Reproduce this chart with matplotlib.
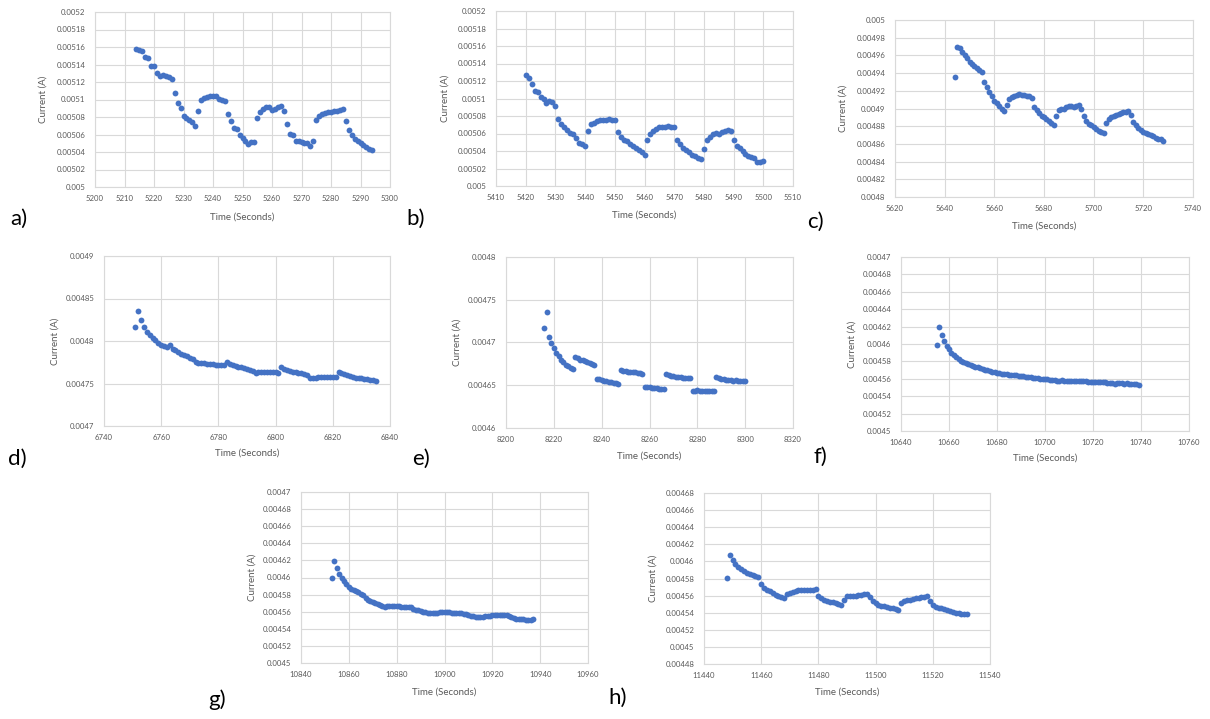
import numpy as np
import matplotlib.pyplot as plt

plt.rcParams["font.family"] = ["Lato", "DejaVu Sans"]

BLUE = "#4472C4"
TXT = "#595959"
GRID = "#D9D9D9"
W, H = 1210, 719

# current readings (A), one sample per second from the start time
a_start = 5214
a_current = [
    0.005158, 0.005157, 0.005156, 0.005149, 0.005148, 0.005138, 0.005138, 0.00513, 0.005127, 0.005128,
    0.005127, 0.005126, 0.005123, 0.005107, 0.005096, 0.00509, 0.005081, 0.005079, 0.005077, 0.005074,
    0.00507, 0.005087, 0.0051, 0.005102, 0.005103, 0.005104, 0.005104, 0.005104, 0.005101, 0.0051,
    0.005098, 0.005084, 0.005075, 0.005067, 0.005066, 0.005059, 0.005056, 0.005053, 0.005049, 0.005051,
    0.005051, 0.005079, 0.005086, 0.005089, 0.005091, 0.005091, 0.005088, 0.005089, 0.005091, 0.005093,
    0.005087, 0.005072, 0.005061, 0.00506, 0.005053, 0.005053, 0.005052, 0.00505, 0.00505, 0.005047,
    0.005053, 0.005077, 0.005081, 0.005084, 0.005085, 0.005086, 0.005086, 0.005087, 0.005087, 0.005088,
    0.005089, 0.005075, 0.005065, 0.00506, 0.005055, 0.005053, 0.00505, 0.005048, 0.005046, 0.005044,
    0.005042,
]

b_start = 5420
b_current = [
    0.005127, 0.005124, 0.005117, 0.005109, 0.005108, 0.005102, 0.005099, 0.005095, 0.005097, 0.005096,
    0.005091, 0.005077, 0.005071, 0.005067, 0.005064, 0.005061, 0.005059, 0.005055, 0.005049, 0.005048,
    0.005046, 0.005063, 0.005071, 0.005072, 0.005074, 0.005075, 0.005075, 0.005076, 0.005077, 0.005076,
    0.005075, 0.005062, 0.005056, 0.005053, 0.005051, 0.005048, 0.005046, 0.005043, 0.005041, 0.005039,
    0.005035, 0.005053, 0.00506, 0.005063, 0.005065, 0.005067, 0.005068, 0.005067, 0.005069, 0.005068,
    0.005067, 0.005053, 0.005048, 0.005044, 0.005041, 0.005039, 0.005035, 0.005034, 0.005032, 0.005031,
    0.005042, 0.005053, 0.005056, 0.005059, 0.005061, 0.00506, 0.005062, 0.005063, 0.005064, 0.005063,
    0.005053, 0.005046, 0.005043, 0.00504, 0.005037, 0.005034, 0.005033, 0.005032, 0.005028, 0.005028,
    0.005029,
]

c_start = 5644
c_current = [
    0.004936, 0.004969, 0.004968, 0.004964, 0.004961, 0.004957, 0.004953, 0.00495, 0.004948, 0.004946,
    0.004944, 0.004941, 0.00493, 0.004924, 0.004919, 0.004914, 0.004909, 0.004906, 0.004903, 0.0049,
    0.004897, 0.004904, 0.004911, 0.004913, 0.004914, 0.004915, 0.004916, 0.004915, 0.004915, 0.004914,
    0.004914, 0.004912, 0.004902, 0.004898, 0.004895, 0.004892, 0.00489, 0.004888, 0.004886, 0.004884,
    0.004881, 0.004892, 0.004898, 0.004899, 0.0049, 0.004902, 0.004903, 0.004903, 0.004902, 0.004903,
    0.004904, 0.004899, 0.004892, 0.004886, 0.004883, 0.004881, 0.004879, 0.004877, 0.004875, 0.004873,
    0.004872, 0.004884, 0.004888, 0.00489, 0.004892, 0.004893, 0.004894, 0.004895, 0.004896, 0.004896,
    0.004897, 0.004893, 0.004885, 0.004881, 0.004878, 0.004876, 0.004874, 0.004872, 0.004871, 0.00487,
    0.004869, 0.004867, 0.004866, 0.004865, 0.004863,
]

d_start = 6751
d_current = [
    0.004817, 0.004835, 0.004825, 0.004817, 0.004811, 0.004807, 0.004804, 0.004801, 0.004798, 0.004795,
    0.004794, 0.004793, 0.004795, 0.004791, 0.004789, 0.004787, 0.004785, 0.004783, 0.004782, 0.00478,
    0.004779, 0.004775, 0.004774, 0.004774, 0.004774, 0.004773, 0.004773, 0.004773, 0.004772, 0.004772,
    0.004772, 0.004772, 0.004775, 0.004773, 0.004772, 0.004771, 0.00477, 0.004769, 0.004768, 0.004767,
    0.004766, 0.004765, 0.004762, 0.004763, 0.004764, 0.004764, 0.004764, 0.004764, 0.004764, 0.004764,
    0.004762, 0.004769, 0.004767, 0.004766, 0.004765, 0.004764, 0.004763, 0.004762, 0.004762, 0.004761,
    0.00476, 0.004756, 0.004757, 0.004757, 0.004758, 0.004758, 0.004758, 0.004758, 0.004758, 0.004758,
    0.004758, 0.004763, 0.004762, 0.004761, 0.00476, 0.004759, 0.004758, 0.004757, 0.004757, 0.004756,
    0.004755, 0.004755, 0.004754, 0.004754, 0.004753,
]

e_start = 8216
e_current = [
    0.004717, 0.004736, 0.004707, 0.004699, 0.004693, 0.004688, 0.004684, 0.00468, 0.004677, 0.004674,
    0.004672, 0.00467, 0.004669, 0.004683, 0.004682, 0.00468, 0.004679, 0.004678, 0.004677, 0.004676,
    0.004675, 0.004674, 0.004657, 0.004657, 0.004656, 0.004655, 0.004655, 0.004654, 0.004654, 0.004653,
    0.004653, 0.004652, 0.004668, 0.004667, 0.004667, 0.004666, 0.004666, 0.004665, 0.004665, 0.004664,
    0.004664, 0.004663, 0.004648, 0.004648, 0.004648, 0.004647, 0.004647, 0.004647, 0.004646, 0.004646,
    0.004646, 0.004663, 0.004662, 0.004661, 0.004661, 0.00466, 0.00466, 0.00466, 0.004659, 0.004659,
    0.004659, 0.004658, 0.004643, 0.004643, 0.004644, 0.004643, 0.004643, 0.004643, 0.004643, 0.004643,
    0.004643, 0.004643, 0.00466, 0.004658, 0.004657, 0.004657, 0.004656, 0.004656, 0.004656, 0.004655,
    0.004656, 0.004655, 0.004655, 0.004655, 0.004655,
]

f_start = 10655
f_current = [
    0.004599, 0.00462, 0.00461, 0.004603, 0.004598, 0.004594, 0.00459, 0.004587, 0.004585, 0.004583,
    0.004581, 0.004579, 0.004578, 0.004577, 0.004576, 0.004575, 0.004574, 0.004573, 0.004572, 0.004571,
    0.00457, 0.00457, 0.004569, 0.004568, 0.004568, 0.004567, 0.004567, 0.004566, 0.004566, 0.004565,
    0.004564, 0.004564, 0.004564, 0.004564, 0.004563, 0.004563, 0.004563, 0.004562, 0.004562, 0.004562,
    0.004561, 0.004561, 0.004561, 0.00456, 0.00456, 0.00456, 0.00456, 0.004559, 0.004559, 0.004559,
    0.004558, 0.004558, 0.004559, 0.004558, 0.004558, 0.004558, 0.004558, 0.004557, 0.004557, 0.004557,
    0.004557, 0.004557, 0.004557, 0.004556, 0.004556, 0.004556, 0.004556, 0.004556, 0.004556, 0.004556,
    0.004556, 0.004555, 0.004555, 0.004555, 0.004554, 0.004555, 0.004555, 0.004555, 0.004554, 0.004555,
    0.004554, 0.004554, 0.004554, 0.004554, 0.004553,
]

g_start = 10853
g_current = [
    0.0046, 0.004619, 0.004611, 0.004604, 0.0046, 0.004596, 0.004592, 0.004589, 0.004587, 0.004585,
    0.004584, 0.004583, 0.004581, 0.004579, 0.004576, 0.004574, 0.004572, 0.004571, 0.00457, 0.004569,
    0.004568, 0.004567, 0.004566, 0.004567, 0.004567, 0.004567, 0.004567, 0.004567, 0.004567, 0.004566,
    0.004566, 0.004565, 0.004565, 0.004565, 0.004563, 0.004562, 0.004562, 0.004561, 0.00456, 0.00456,
    0.004559, 0.004559, 0.004558, 0.004558, 0.004559, 0.00456, 0.00456, 0.00456, 0.00456, 0.00456,
    0.004558, 0.004558, 0.004559, 0.004559, 0.004558, 0.004557, 0.004557, 0.004556, 0.004555, 0.004555,
    0.004554, 0.004554, 0.004554, 0.004554, 0.004555, 0.004555, 0.004555, 0.004556, 0.004556, 0.004556,
    0.004556, 0.004556, 0.004556, 0.004556, 0.004555, 0.004554, 0.004553, 0.004552, 0.004552, 0.004552,
    0.004551, 0.00455, 0.00455, 0.00455, 0.004551,
]

h_start = 11448
h_current = [
    0.004581, 0.004607, 0.004602, 0.004597, 0.004594, 0.004591, 0.004589, 0.004587, 0.004585, 0.004584,
    0.004583, 0.004582, 0.004573, 0.004569, 0.004567, 0.004565, 0.004563, 0.004561, 0.00456, 0.004558,
    0.004557, 0.004562, 0.004563, 0.004564, 0.004565, 0.004566, 0.004566, 0.004567, 0.004567, 0.004567,
    0.004567, 0.004568, 0.00456, 0.004557, 0.004555, 0.004554, 0.004553, 0.004552, 0.004551, 0.00455,
    0.004549, 0.004555, 0.004559, 0.00456, 0.00456, 0.00456, 0.004561, 0.004561, 0.004562, 0.004562,
    0.004558, 0.004554, 0.004551, 0.004549, 0.004548, 0.004548, 0.004547, 0.004546, 0.004545, 0.004544,
    0.004543, 0.004551, 0.004554, 0.004555, 0.004555, 0.004556, 0.004557, 0.004557, 0.004558, 0.004558,
    0.004559, 0.004554, 0.004549, 0.004547, 0.004546, 0.004545, 0.004544, 0.004543, 0.004542, 0.004541,
    0.00454, 0.00454, 0.004539, 0.004539, 0.004538,
]

# axis ranges: (xmin, xmax, xstep, ymin, ymax, ystep)
ranges = {
    "a": (5200, 5300, 10, 0.005, 0.0052, 0.00002),
    "b": (5410, 5510, 10, 0.005, 0.0052, 0.00002),
    "c": (5620, 5740, 20, 0.0048, 0.005, 0.00002),
    "d": (6740, 6840, 20, 0.0047, 0.0049, 0.00005),
    "e": (8200, 8320, 20, 0.0046, 0.0048, 0.00005),
    "f": (10640, 10760, 20, 0.0045, 0.0047, 0.00002),
    "g": (10840, 10960, 20, 0.0045, 0.0047, 0.00002),
    "h": (11440, 11540, 20, 0.00448, 0.00468, 0.00002),
}

series = {
    "a": (a_start, a_current), "b": (b_start, b_current),
    "c": (c_start, c_current), "d": (d_start, d_current),
    "e": (e_start, e_current), "f": (f_start, f_current),
    "g": (g_start, g_current), "h": (h_start, h_current),
}

# pixel layout: plot box (left, top, right, bottom), ylabel x, xlabel y, panel letter (x, y)
layout = {
    "a": ((95, 12, 390, 187), 43, 217, (10, 219)),
    "b": ((496, 11, 793, 186), 445, 215, (406, 219)),
    "c": ((895, 20, 1193, 197), 843, 226, (807, 222)),
    "d": ((104, 256, 390, 426), 55, 453, (8, 459)),
    "e": ((506, 257, 793, 428), 457, 456, (412, 459)),
    "f": ((901, 257, 1189, 431), 852, 458, (813, 457)),
    "g": ((301, 492, 588, 663), 252, 692, (208, 700)),
    "h": ((704, 493, 990, 664), 653, 692, (608, 698)),
}


def fmt(v, pos=None):
    return f"{v:.5f}".rstrip("0").rstrip(".")


fig = plt.figure(figsize=(W / 100, H / 100), dpi=100)
fig.patch.set_facecolor("white")

for key in "abcdefgh":
    (l, t, r, b), ylab_x, xlab_y, (lx, ly) = layout[key]
    x0, x1, xs, y0, y1, ys = ranges[key]
    start, current = series[key]
    t_sec = start + np.arange(len(current))

    ax = fig.add_axes([l / W, 1 - b / H, (r - l) / W, (b - t) / H])
    ax.plot(t_sec, current, "o", ms=4.2, color=BLUE, mec="none", zorder=3)

    ax.set_xlim(x0, x1)
    ax.set_ylim(y0, y1)
    ax.set_xticks(np.arange(x0, x1 + xs / 2, xs))
    n = int(round((y1 - y0) / ys))
    ax.set_yticks(np.round(np.linspace(y0, y1, n + 1), 6))
    ax.yaxis.set_major_formatter(fmt)

    ax.grid(True, color=GRID, lw=0.8)
    ax.set_axisbelow(True)
    for sp in ax.spines.values():
        sp.set_color(GRID)
        sp.set_linewidth(0.8)
    ax.tick_params(length=0, labelsize=5.6, labelcolor=TXT)
    ax.tick_params(axis="x", pad=6)
    ax.tick_params(axis="y", pad=7)

    fig.text((l + r) / 2 / W, 1 - xlab_y / H, "Time (Seconds)", fontsize=7,
             color=TXT, ha="center", va="center")
    fig.text(ylab_x / W, 1 - (t + b) / 2 / H, "Current (A)", fontsize=7,
             color=TXT, ha="center", va="center", rotation=90)
    fig.text(lx / W, 1 - ly / H, key + ")", fontsize=16, color="black",
             ha="left", va="center")

fig.savefig("out.png", dpi=100, facecolor="white")
